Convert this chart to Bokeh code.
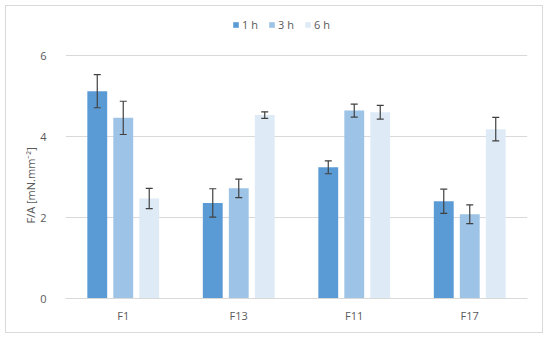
from bokeh.plotting import figure
from bokeh.models import ColumnDataSource, FactorRange, Whisker, Legend, LegendItem, TeeHead, Title
from bokeh.transform import dodge
from bokeh.embed import file_html
from bokeh.resources import INLINE

categories = ["F1", "F13", "F11", "F17"]
series_names = ["1 h", "3 h", "6 h"]
v1h = [5.12, 2.36, 3.24, 2.40]
e1h = [0.41, 0.35, 0.16, 0.30]
v3h = [4.46, 2.72, 4.64, 2.08]
e3h = [0.41, 0.23, 0.16, 0.23]
v6h = [2.47, 4.53, 4.60, 4.18]
e6h = [0.25, 0.08, 0.17, 0.29]
y_ticks = [0, 2, 4, 6]

colors = ["#5B9BD5", "#9DC3E6", "#DEEBF7"]
offsets = [-0.225, 0.0, 0.225]

p = figure(x_range=FactorRange(*categories), y_range=(0, 7.21),
           width=538, height=328, output_backend="svg", toolbar_location=None,
           min_border_left=59, min_border_right=17, min_border_top=0, min_border_bottom=36)
p.outline_line_color = None
p.border_fill_color = "white"
p.background_fill_color = "white"
p.styles = {"border": "1px solid #D9D9D9", "margin-left": "5px", "margin-top": "5px"}

vals = [v1h, v3h, v6h]
errs = [e1h, e3h, e6h]
renderers = []
for i in range(3):
    src = ColumnDataSource(dict(cat=categories, top=vals[i],
                                upper=[v + e for v, e in zip(vals[i], errs[i])],
                                lower=[v - e for v, e in zip(vals[i], errs[i])]))
    r = p.vbar(x=dodge("cat", offsets[i], range=p.x_range), top="top", width=0.172,
               source=src, fill_color=colors[i], line_color=None)
    renderers.append(r)
    w = Whisker(base=dodge("cat", offsets[i], range=p.x_range), upper="upper", lower="lower",
                source=src, line_color="#404040", line_width=1.2, level="overlay",
                upper_head=TeeHead(size=7, line_color="#404040", line_width=1.2),
                lower_head=TeeHead(size=7, line_color="#404040", line_width=1.2))
    p.add_layout(w)

legend = Legend(items=[LegendItem(label=series_names[i], renderers=[renderers[i]]) for i in range(3)],
                orientation="horizontal", location=(167, 266),
                background_fill_alpha=0, border_line_color=None,
                glyph_width=7, glyph_height=7, label_text_font_size="11px",
                label_text_color="#595959", label_standoff=3, spacing=6,
                padding=0, margin=0, label_text_font="Open Sans")
p.add_layout(legend, "center")

ytitle = Title(text="F/A [mN.mm\u207b\u00b2]", align="left", offset=75,
               text_color="#595959", text_font_size="11px", text_font="Open Sans",
               text_font_style="normal", standoff=0)
p.add_layout(ytitle, "left")

p.xgrid.grid_line_color = None
p.ygrid.grid_line_color = "#D9D9D9"
p.ygrid.grid_line_width = 1
p.yaxis.ticker = y_ticks
p.yaxis.axis_label = None
p.yaxis.axis_line_color = None
p.yaxis.major_tick_line_color = None
p.yaxis.minor_tick_line_color = None
p.yaxis.major_label_text_color = "#595959"
p.yaxis.major_label_text_font_size = "11px"
p.yaxis.major_label_text_font = "Open Sans"
p.yaxis.major_label_standoff = 13

p.xaxis.axis_label = None
p.xaxis.axis_line_color = "#D9D9D9"
p.xaxis.major_tick_line_color = None
p.xaxis.minor_tick_line_color = None
p.xaxis.major_label_text_color = "#595959"
p.xaxis.major_label_text_font_size = "11px"
p.xaxis.major_label_text_font = "Open Sans"
p.xaxis.major_label_standoff = 3

open("out.html", "w").write(file_html(p, INLINE))
